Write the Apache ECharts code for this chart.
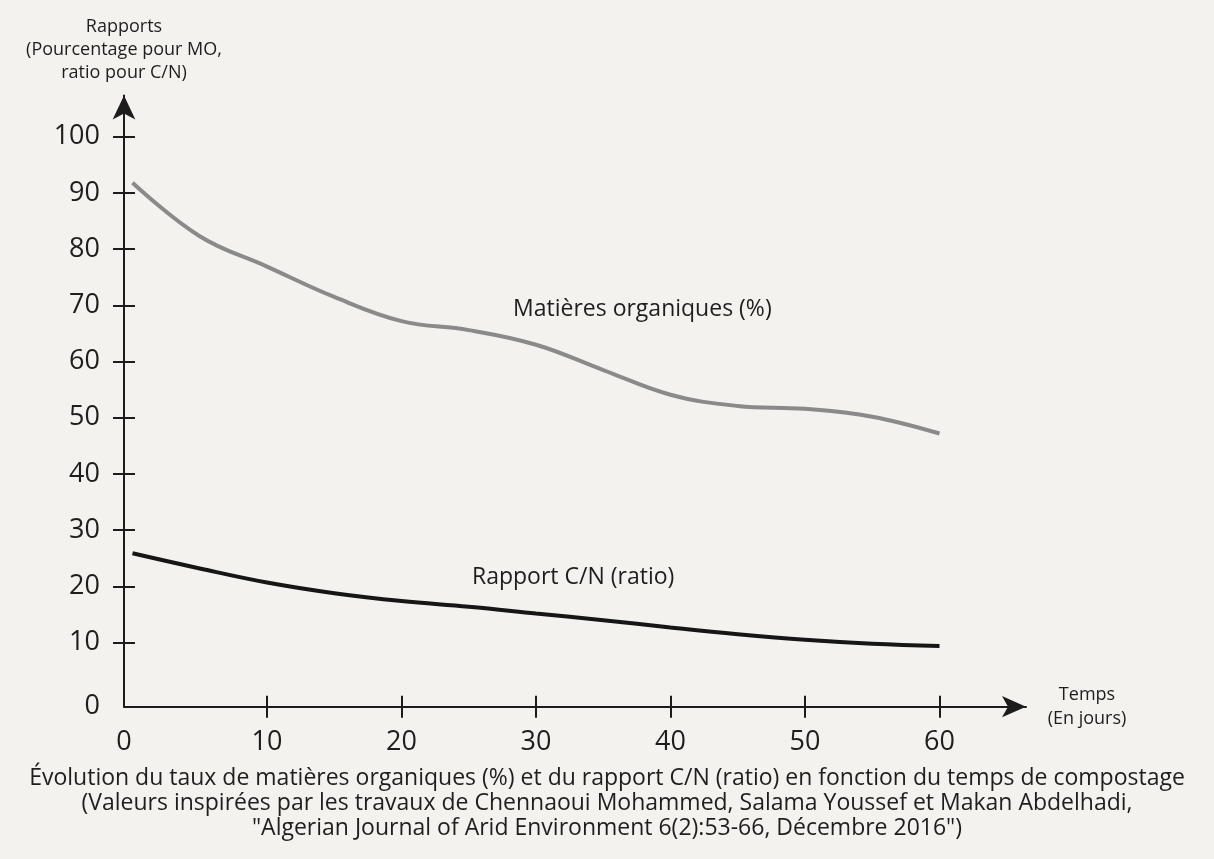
<!DOCTYPE html>
<html>
<head>
<meta charset="utf-8">
<script src="https://cdn.jsdelivr.net/npm/echarts@6/dist/echarts.min.js"></script>
<style>
html,body{margin:0;padding:0;background:#f4f2ee;}
#chart{width:1214px;height:859px;}
</style>
</head>
<body>
<div id="chart"></div>
<script>
// ---- data ----
var days = [0, 5, 10, 15, 20, 25, 30, 35, 40, 45, 50, 55, 60];
var matieresOrganiques = [91.8, 82.3, 76.9, 71.5, 67.2, 65.6, 63.0, 58.5, 54.1, 52.1, 51.6, 50.2, 47.2];
var rapportCN = [25.9, 23.2, 20.7, 18.8, 17.4, 16.4, 15.2, 14.0, 12.7, 11.5, 10.5, 9.8, 9.4];
var xTicks = [10, 20, 30, 40, 50, 60];
var yTicks = [10, 20, 30, 40, 50, 60, 70, 80, 90, 100];
var seriesNames = ['Matières organiques (%)', 'Rapport C/N (ratio)'];
var yAxisName = 'Rapports\n(Pourcentage pour MO,\nratio pour C/N)';
var xAxisName = 'Temps\n(En jours)';
var caption = 'Évolution du taux de matières organiques (%) et du rapport C/N (ratio) en fonction du temps de compostage\n(Valeurs inspirées par les travaux de Chennaoui Mohammed, Salama Youssef et Makan Abdelhadi,\n"Algerian Journal of Arid Environment 6(2):53-66, Décembre 2016")';

// ---- layout ----
var XMIN = -0.632, XMAX = 66.43;
var YMIN = -1.39, YMAX = 107.33;
var FONT = '"Open Sans", "Noto Sans", sans-serif';
var INK = '#1c1c1c';
var TXT = '#1e1e1e';

function pairs(xs, ys) { return xs.map(function (x, i) { return [x, ys[i]]; }); }
function zeroFmt(v) { return v < 0 ? '0' : String(v); }

var chart = echarts.init(document.getElementById('chart'));
chart.setOption({
  backgroundColor: '#f4f2ee',
  animation: false,
  textStyle: { fontFamily: FONT },
  grid: { left: 124, right: 188, top: 95.5, bottom: 152.3 },
  xAxis: [{
    type: 'value', min: XMIN, max: XMAX, position: 'bottom',
    name: xAxisName, nameLocation: 'end', nameGap: 61,
    nameTextStyle: { fontFamily: FONT, fontSize: 18, color: TXT, lineHeight: 24, align: 'center', verticalAlign: 'middle', padding: [6, 0, 0, 0] },
    axisLine: { show: true, onZero: false, symbol: ['none', 'arrow'], symbolSize: [16, 24], lineStyle: { color: INK, width: 2 } },
    axisTick: { show: true, customValues: xTicks, length: 11, inside: false, lineStyle: { color: INK, width: 2 } },
    axisLabel: { customValues: [XMIN].concat(xTicks), formatter: zeroFmt, fontSize: 27, color: TXT, margin: 22, fontFamily: FONT },
    splitLine: { show: false }
  }, {
    type: 'value', min: XMIN, max: XMAX, position: 'bottom',
    axisLine: { show: false, onZero: false },
    axisTick: { show: true, customValues: xTicks, length: 11, inside: true, lineStyle: { color: INK, width: 2 } },
    axisLabel: { show: false },
    splitLine: { show: false }
  }],
  yAxis: [{
    type: 'value', min: YMIN, max: YMAX, position: 'left',
    name: yAxisName, nameLocation: 'end', nameGap: 11,
    nameTextStyle: { fontFamily: FONT, fontSize: 18, color: TXT, lineHeight: 23, align: 'center', verticalAlign: 'bottom' },
    axisLine: { show: true, onZero: false, symbol: ['none', 'arrow'], symbolSize: [17, 24], lineStyle: { color: INK, width: 2 } },
    axisTick: { show: true, customValues: yTicks, length: 11, inside: false, lineStyle: { color: INK, width: 2 } },
    axisLabel: { customValues: [YMIN].concat(yTicks), formatter: zeroFmt, fontSize: 27, color: TXT, margin: 24, fontFamily: FONT, padding: [6, 0, 0, 0] },
    splitLine: { show: false }
  }, {
    type: 'value', min: YMIN, max: YMAX, position: 'left',
    axisLine: { show: false, onZero: false },
    axisTick: { show: true, customValues: yTicks, length: 11, inside: true, lineStyle: { color: INK, width: 2 } },
    axisLabel: { show: false },
    splitLine: { show: false }
  }],
  series: [{
    name: seriesNames[0], type: 'line', xAxisIndex: 0, yAxisIndex: 0,
    data: pairs(days, matieresOrganiques), smooth: 0.4, showSymbol: false,
    lineStyle: { color: '#8a8a8a', width: 4 }, z: 3
  }, {
    name: seriesNames[1], type: 'line', xAxisIndex: 0, yAxisIndex: 0,
    data: pairs(days, rapportCN), smooth: 0.4, showSymbol: false,
    lineStyle: { color: '#161616', width: 4 }, z: 3
  }],
  graphic: [{
    type: 'text', x: 513, y: 309,
    style: { text: seriesNames[0], fontFamily: FONT, fontSize: 23, fill: TXT, align: 'left', verticalAlign: 'middle' }
  }, {
    type: 'text', x: 472, y: 577,
    style: { text: seriesNames[1], fontFamily: FONT, fontSize: 23, fill: TXT, align: 'left', verticalAlign: 'middle' }
  }, {
    type: 'text', x: 607, y: 766,
    style: { text: caption, fontFamily: FONT, fontSize: 23, lineHeight: 25, fill: TXT, align: 'center', verticalAlign: 'top' }
  }]
});
</script>
</body>
</html>
